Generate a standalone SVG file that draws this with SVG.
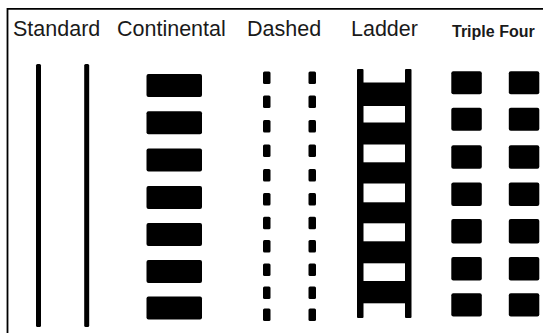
<svg xmlns="http://www.w3.org/2000/svg" width="543" height="333" viewBox="0 0 543 333">
<style>
.lbl{font-family:"Liberation Sans",Arial,sans-serif;font-size:21.5px;fill:#1a1a1a}
.lblb{font-family:"Liberation Sans",Arial,sans-serif;font-size:16px;font-weight:bold;fill:#1a1a1a}
.blk{fill:#000}
</style>
<rect width="543" height="333" fill="#fff"/>
<g id="frame" stroke="#000" stroke-width="1.8" fill="none">
<path d="M7.5,333 V8.9 H543"/>
</g>
<g id="standard">
<text class="lbl" x="13" y="36">Standard</text>
<rect class="blk" x="36" y="64" width="5" height="263" rx="1.5"/>
<rect class="blk" x="84.2" y="64" width="5" height="263" rx="1.5"/>
</g>
<g id="continental">
<text class="lbl" x="117" y="36">Continental</text>
<rect class="blk" x="146.5" y="74" width="55.5" height="23" rx="2"/>
<rect class="blk" x="146.5" y="111.3" width="55.5" height="23" rx="2"/>
<rect class="blk" x="146.5" y="148.6" width="55.5" height="23" rx="2"/>
<rect class="blk" x="146.5" y="186" width="55.5" height="23" rx="2"/>
<rect class="blk" x="146.5" y="223" width="55.5" height="23" rx="2"/>
<rect class="blk" x="146.5" y="260" width="55.5" height="23" rx="2"/>
<rect class="blk" x="146.5" y="296.5" width="55.5" height="23" rx="2"/>
</g>
<g id="dashed">
<text class="lbl" x="247" y="36">Dashed</text>
<g id="dashed-left">
<rect class="blk" x="263" y="71.5" width="7.5" height="12.5" rx="1.5"/>
<rect class="blk" x="263" y="95.5" width="7.5" height="12.5" rx="1.5"/>
<rect class="blk" x="263" y="120" width="7.5" height="12.5" rx="1.5"/>
<rect class="blk" x="263" y="144.5" width="7.5" height="12.5" rx="1.5"/>
<rect class="blk" x="263" y="169" width="7.5" height="12.5" rx="1.5"/>
<rect class="blk" x="263" y="193" width="7.5" height="12.5" rx="1.5"/>
<rect class="blk" x="263" y="216.8" width="7.5" height="12.5" rx="1.5"/>
<rect class="blk" x="263" y="240" width="7.5" height="12.5" rx="1.5"/>
<rect class="blk" x="263" y="263.5" width="7.5" height="12.5" rx="1.5"/>
<rect class="blk" x="263" y="286.5" width="7.5" height="12.5" rx="1.5"/>
<rect class="blk" x="263" y="308.5" width="7.5" height="12.5" rx="1.5"/>
</g>
<g id="dashed-right">
<rect class="blk" x="308.5" y="71.5" width="7.5" height="12.5" rx="1.5"/>
<rect class="blk" x="308.5" y="95.5" width="7.5" height="12.5" rx="1.5"/>
<rect class="blk" x="308.5" y="120" width="7.5" height="12.5" rx="1.5"/>
<rect class="blk" x="308.5" y="144.5" width="7.5" height="12.5" rx="1.5"/>
<rect class="blk" x="308.5" y="169" width="7.5" height="12.5" rx="1.5"/>
<rect class="blk" x="308.5" y="193" width="7.5" height="12.5" rx="1.5"/>
<rect class="blk" x="308.5" y="216.8" width="7.5" height="12.5" rx="1.5"/>
<rect class="blk" x="308.5" y="240" width="7.5" height="12.5" rx="1.5"/>
<rect class="blk" x="308.5" y="263.5" width="7.5" height="12.5" rx="1.5"/>
<rect class="blk" x="308.5" y="286.5" width="7.5" height="12.5" rx="1.5"/>
<rect class="blk" x="308.5" y="308.5" width="7.5" height="12.5" rx="1.5"/>
</g>
</g>
<g id="ladder">
<text class="lbl" x="351" y="36">Ladder</text>
<rect class="blk" x="357" y="69" width="6.5" height="249" rx="1"/>
<rect class="blk" x="405" y="69" width="6.5" height="249" rx="1"/>
<rect class="blk" x="363" y="82.5" width="42.5" height="23.5"/>
<rect class="blk" x="363" y="122.5" width="42.5" height="22"/>
<rect class="blk" x="363" y="162.3" width="42.5" height="21.2"/>
<rect class="blk" x="363" y="202.3" width="42.5" height="21"/>
<rect class="blk" x="363" y="241.3" width="42.5" height="22"/>
<rect class="blk" x="363" y="281" width="42.5" height="22.3"/>
</g>
<g id="triple-four">
<text class="lblb" x="452" y="37">Triple Four</text>
<rect class="blk" x="451.3" y="71.3" width="30.5" height="23" rx="2"/>
<rect class="blk" x="451.3" y="107.8" width="30.5" height="23" rx="2"/>
<rect class="blk" x="451.3" y="145.3" width="30.5" height="23.5" rx="2"/>
<rect class="blk" x="451.3" y="182.6" width="30.5" height="23.3" rx="2"/>
<rect class="blk" x="451.3" y="219" width="30.5" height="24.5" rx="2"/>
<rect class="blk" x="451.3" y="257" width="30.5" height="23.5" rx="2"/>
<rect class="blk" x="451.3" y="293.2" width="30.5" height="23.3" rx="2"/>
<rect class="blk" x="508.8" y="71.3" width="30.5" height="23" rx="2"/>
<rect class="blk" x="508.8" y="107.8" width="30.5" height="23" rx="2"/>
<rect class="blk" x="508.8" y="145.3" width="30.5" height="23.5" rx="2"/>
<rect class="blk" x="508.8" y="182.6" width="30.5" height="23.3" rx="2"/>
<rect class="blk" x="508.8" y="219" width="30.5" height="24.5" rx="2"/>
<rect class="blk" x="508.8" y="257" width="30.5" height="23.5" rx="2"/>
<rect class="blk" x="508.8" y="293.2" width="30.5" height="23.3" rx="2"/>
</g>
</svg>
